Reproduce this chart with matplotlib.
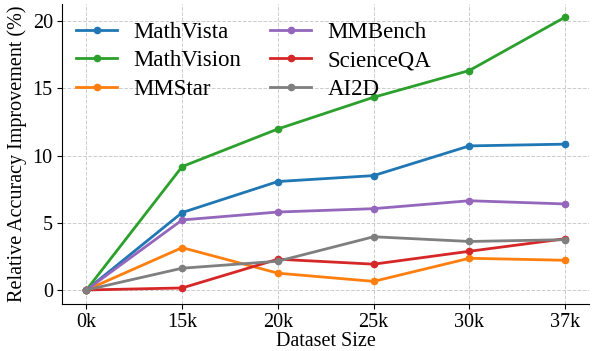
import matplotlib
matplotlib.use("Agg")
import matplotlib.pyplot as plt

sizes = ["0k", "15k", "20k", "25k", "30k", "37k"]
mathvista = [0.0, 5.76, 8.07, 8.51, 10.72, 10.85]
mathvision = [0.0, 9.18, 11.98, 14.34, 16.33, 20.30]
mmstar = [0.0, 3.15, 1.25, 0.64, 2.36, 2.21]
mmbench = [0.0, 5.21, 5.80, 6.05, 6.64, 6.40]
scienceqa = [0.0, 0.15, 2.29, 1.92, 2.88, 3.81]
ai2d = [0.0, 1.62, 2.14, 3.96, 3.61, 3.74]

plt.rcParams["font.family"] = ["Liberation Serif", "DejaVu Serif"]

fig, ax = plt.subplots(figsize=(5.95, 3.51), dpi=100)
x = range(len(sizes))
series = [
    ("MathVista", mathvista, "#1f77b4"),
    ("MathVision", mathvision, "#2ca02c"),
    ("MMStar", mmstar, "#ff7f0e"),
    ("MMBench", mmbench, "#9467bd"),
    ("ScienceQA", scienceqa, "#d62728"),
    ("AI2D", ai2d, "#7f7f7f"),
]
for name, vals, c in series:
    ax.plot(x, vals, marker="o", markersize=4.5, linewidth=2, color=c, label=name)

ax.set_xticks(list(x))
ax.set_xticklabels(sizes)
ax.set_yticks([0, 5, 10, 15, 20])
ax.tick_params(labelsize=14.5)
ax.set_xlabel("Dataset Size", fontsize=14.5, labelpad=0)
ax.set_ylabel("Relative Accuracy Improvement (%)", fontsize=14.5)
ax.grid(True, linestyle="--", color="#cccccc", linewidth=0.7)
ax.spines["top"].set_visible(False)
ax.spines["right"].set_visible(False)
ax.legend(ncol=2, frameon=False, fontsize=16.5, loc="upper left",
          handlelength=1.8, handletextpad=0.7, columnspacing=1.25,
          labelspacing=0.33, borderaxespad=0.2, bbox_to_anchor=(0.0, 0.985))

fig.subplots_adjust(left=0.105, right=0.99, top=0.99, bottom=0.135)
fig.savefig("out.png", dpi=100)
